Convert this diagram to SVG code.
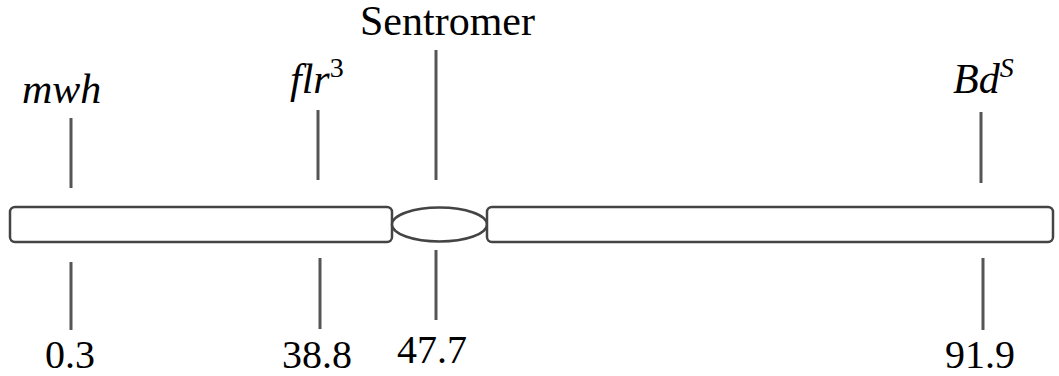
<svg xmlns="http://www.w3.org/2000/svg" width="1059" height="376" viewBox="0 0 1059 376">
<style>
.bar{fill:#fff;stroke:#444;stroke-width:2.5}
.tick{stroke:#555;stroke-width:3}
.lbl{font-family:"Liberation Serif",serif;font-size:42px;fill:#000}
.it{font-style:italic}
.num{font-family:"Liberation Serif",serif;font-size:40px;fill:#000}
</style>
<rect width="1059" height="376" fill="#fff"/>
<g id="chromosome">
<rect class="bar" x="10" y="207" width="382" height="35" rx="5"/>
<ellipse class="bar" cx="439.5" cy="224.5" rx="47.5" ry="17"/>
<rect class="bar" x="487" y="207" width="566" height="35" rx="5"/>
</g>
<g id="connectors">
<line class="tick" x1="71" y1="118" x2="71" y2="188"/>
<line class="tick" x1="71" y1="262" x2="71" y2="330"/>
<line class="tick" x1="318" y1="110" x2="318" y2="180"/>
<line class="tick" x1="320" y1="258" x2="320" y2="329"/>
<line class="tick" x1="436" y1="50" x2="436" y2="180"/>
<line class="tick" x1="436" y1="250" x2="436" y2="320"/>
<line class="tick" x1="981" y1="112" x2="981" y2="183"/>
<line class="tick" x1="983" y1="258" x2="983" y2="330"/>
</g>
<g id="centromere-label"><text class="lbl" x="360" y="35">Sentromer</text></g>
<g id="mwh"><text class="lbl it" x="22" y="103">mwh</text><text class="num" x="45" y="368">0.3</text></g>
<g id="flr3"><text class="lbl it" x="290" y="93">flr<tspan font-size="28" dy="-16" font-style="normal">3</tspan></text><text class="num" x="282" y="368">38.8</text></g>
<g id="cen"><text class="num" x="397" y="363">47.7</text></g>
<g id="BdS"><text class="lbl it" x="953" y="93">Bd<tspan font-size="28" dy="-16">S</tspan></text><text class="num" x="945" y="368">91.9</text></g>
</svg>
